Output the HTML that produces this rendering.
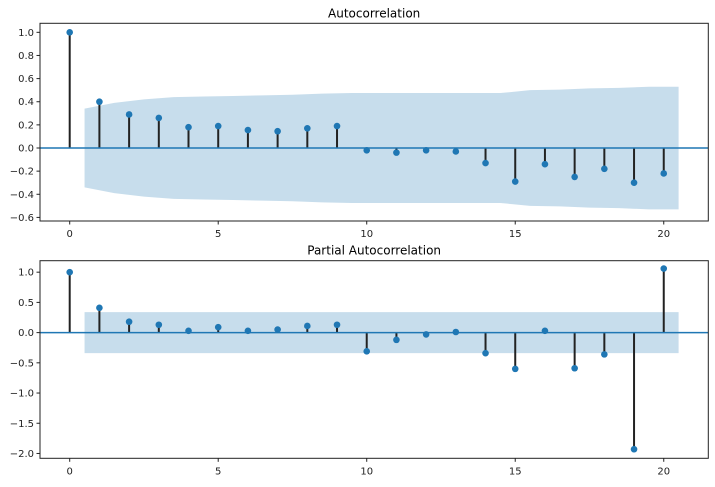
<!DOCTYPE html>
<html><head><meta charset="utf-8"><style>
body{margin:0;background:#fff;font-family:"Liberation Sans","DejaVu Sans",sans-serif}
svg text{font-family:"DejaVu Sans","Liberation Sans",sans-serif}
</style></head><body>
<svg id="chart" width="715" height="482" xmlns="http://www.w3.org/2000/svg"></svg>
<script>
const lags = [0,1,2,3,4,5,6,7,8,9,10,11,12,13,14,15,16,17,18,19,20];
const acfValues = [1,0.40,0.29,0.26,0.18,0.19,0.155,0.145,0.17,0.19,-0.02,-0.04,-0.02,-0.03,-0.13,-0.29,-0.14,-0.25,-0.18,-0.30,-0.22];
const acfConf = [0.34,0.39,0.42,0.44,0.445,0.45,0.455,0.46,0.47,0.475,0.475,0.475,0.475,0.475,0.475,0.5,0.505,0.515,0.52,0.53];
const pacfValues = [1,0.41,0.18,0.13,0.03,0.09,0.03,0.05,0.11,0.13,-0.31,-0.12,-0.03,0.01,-0.34,-0.60,0.03,-0.59,-0.36,-1.93,1.06];
const pacfConf = [0.34,0.34,0.34,0.34,0.34,0.34,0.34,0.34,0.34,0.34,0.34,0.34,0.34,0.34,0.34,0.34,0.34,0.34,0.34,0.34];
const xTicks = [0,5,10,15,20];
const acfYTicks = [1.0,0.8,0.6,0.4,0.2,0.0,-0.2,-0.4,-0.6];
const pacfYTicks = [1.0,0.5,0.0,-0.5,-1.0,-1.5,-2.0];

const svg = document.getElementById('chart');
const NS = 'http://www.w3.org/2000/svg';
function mk(tag, attrs, parent){const e=document.createElementNS(NS,tag);for(const k in attrs)e.setAttribute(k,attrs[k]);(parent||svg).appendChild(e);return e;}
function fmt(v,d){return (v<0?'\u2212':'')+Math.abs(v).toFixed(d);}

function panel(cfg){
  const g = mk('g',{});
  
  
  const L=40,R=708.3,T=cfg.top,B=cfg.bottom;
  const xs=v=>L+(v-(-1))/(21.5-(-1))*(R-L);
  const ys=v=>T+(cfg.ymax-v)/(cfg.ymax-cfg.ymin)*(B-T);
  // band
  let up=[],lo=[];
  cfg.conf.forEach((c,i)=>{up.push(xs(i+0.5)+','+ys(c));lo.push(xs(i+0.5)+','+ys(-c));});
  const lastC=cfg.conf[cfg.conf.length-1];
  up.push(xs(cfg.conf.length+0.5)+','+ys(lastC));lo.push(xs(cfg.conf.length+0.5)+','+ys(-lastC));
  const band=mk('polygon',{points:up.concat(lo.reverse()).join(' '),fill:'#1f77b4','fill-opacity':0.25},g);
  
  
  // stems
  cfg.vals.forEach((v,i)=>{
    const l=mk('line',{x1:xs(lags[i]),x2:xs(lags[i]),y1:ys(0),y2:ys(v),stroke:'#222','stroke-width':2},g);
    
    
  });
  const zl=mk('line',{x1:L,x2:R,y1:ys(0),y2:ys(0),stroke:'#1f77b4','stroke-width':1.5},g);
  
  
  cfg.vals.forEach((v,i)=>{
    const c=mk('circle',{cx:xs(lags[i]),cy:ys(v),r:3.3,fill:'#1f77b4'},g);
    
    
  });
  const fr=mk('rect',{x:L,y:T,width:R-L,height:B-T,fill:'none',stroke:'#222','stroke-width':1},g);
  
  
  xTicks.forEach(t=>{
    mk('line',{x1:xs(t),x2:xs(t),y1:B,y2:B+3.5,stroke:'#222'},g);
    const tx=mk('text',{x:xs(t),y:B+16,'font-size':10,'text-anchor':'middle',fill:'#222'},g);
    tx.textContent=t;
    
    
  });
  cfg.yticks.forEach(t=>{
    mk('line',{x1:L-3.5,x2:L,y1:ys(t),y2:ys(t),stroke:'#222'},g);
    const tx=mk('text',{x:L-6,y:ys(t)+3.5,'font-size':10,'text-anchor':'end',fill:'#222'},g);
    tx.textContent=fmt(t,1);
    
    
  });
  const ti=mk('text',{x:(L+R)/2,y:T-6,'font-size':12,'text-anchor':'middle',fill:'#000'},g);
  ti.textContent=cfg.title;
  
  
}
panel({name:'acf-panel',title:'Autocorrelation',top:23.3,bottom:221,ymax:1.078,ymin:-0.631,vals:acfValues,conf:acfConf,yticks:acfYTicks});
panel({name:'pacf-panel',title:'Partial Autocorrelation',top:260.7,bottom:458.3,ymax:1.19,ymin:-2.08,vals:pacfValues,conf:pacfConf,yticks:pacfYTicks});
</script>
</body></html>
